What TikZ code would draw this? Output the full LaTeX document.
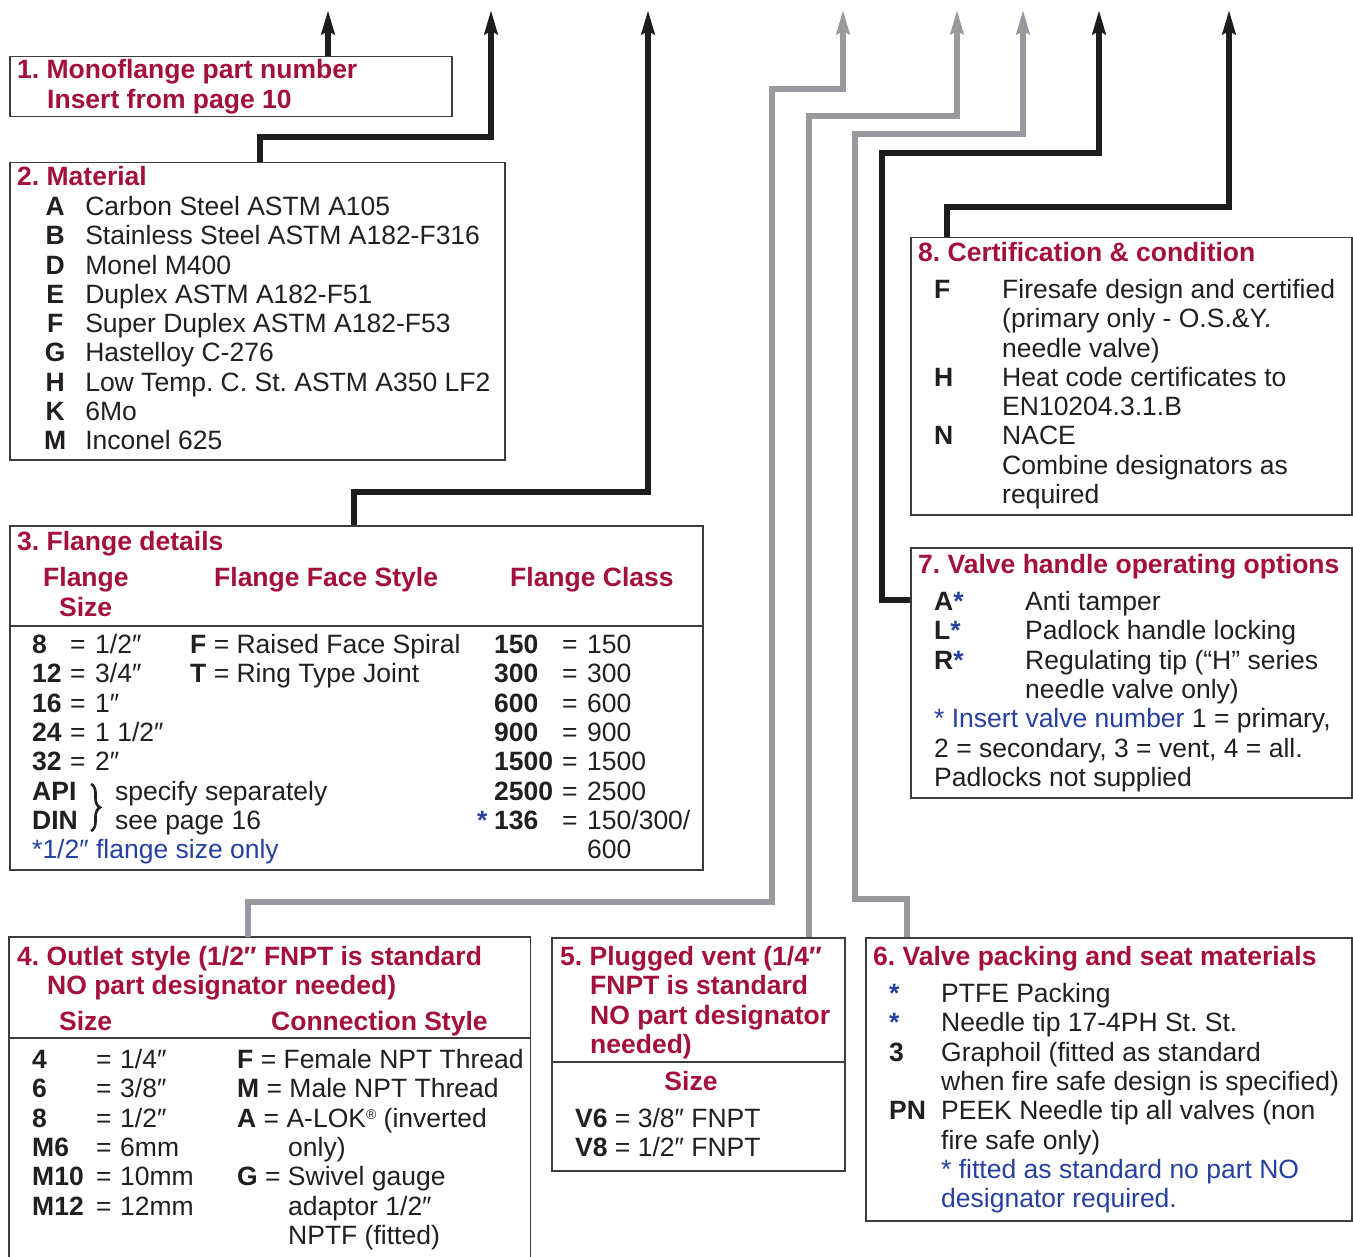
\documentclass[tikz,border=0pt]{standalone}
\usepackage{fontspec}
\setmainfont{Liberation Sans}
\usepackage{array}
\usepackage{graphicx}
\usetikzlibrary{arrows.meta,decorations.pathreplacing}
\frenchspacing
\definecolor{titlered}{RGB}{163,16,60}
\definecolor{noteblue}{RGB}{38,64,160}
\definecolor{linegray}{RGB}{152,153,158}
\definecolor{lineblack}{RGB}{30,28,30}
\definecolor{boxgray}{RGB}{60,60,60}
\definecolor{textblack}{RGB}{35,31,32}
\newcommand{\msize}{\fontsize{26.5}{29.3}\selectfont\frenchspacing}
\newcommand{\colrows}[1]{\begin{tabular}[t]{@{}l@{}}#1\end{tabular}}
\newcommand{\bs}{\textcolor{noteblue}{*}}
\tikzset{
  box/.style={draw=boxgray, line width=1.5pt, inner sep=0pt, anchor=north west},
  openbox/.style={inner sep=0pt, anchor=north west},
  boxline/.style={draw=boxgray, line width=1.5pt},
  sepline/.style={draw=boxgray, line width=2.6pt},
  txt/.style={anchor=base west, inner sep=0pt, font=\msize, text=textblack},
  btxt/.style={txt, font=\msize\bfseries},
  ttl/.style={txt, font=\msize\bfseries, text=titlered},
  note/.style={txt, text=noteblue},
  bracestyle/.style={draw=textblack, line width=2.6pt, decorate, decoration={brace, amplitude=9pt}},
  blk/.style={draw=lineblack, line width=5.5pt, -{Stealth[length=24pt,width=13pt,inset=3pt]}},
  gry/.style={draw=linegray, line width=5.5pt, -{Stealth[length=24pt,width=13pt,inset=3pt]}},
}
\begin{document}
\begin{tikzpicture}[x=1pt,y=-1pt]
\useasboundingbox[fill=white] (0,0) rectangle (1353,1257);

% ---------- boxes ----------
\node[box, minimum width=442pt, minimum height=60pt]  (b1) at (9,56) {};
\node[box, minimum width=495pt, minimum height=297pt] (b2) at (9,162) {};
\node[box, minimum width=693pt, minimum height=344pt] (b3) at (9,525) {};
\node[openbox, minimum width=521pt, minimum height=320pt] (b4) at (9,937) {};
\draw[boxline] (b4.south west) -- (b4.north west) -- (b4.north east) -- (b4.south east);
\node[box, minimum width=293pt, minimum height=233pt] (b5) at (551,937) {};
\node[box, minimum width=486pt, minimum height=283pt] (b6) at (865,937) {};
\node[box, minimum width=441pt, minimum height=250pt] (b7) at (910,547) {};
\node[box, minimum width=441pt, minimum height=277pt] (b8) at (910,237) {};

% separators
\draw[sepline] (b3.west |- 0,626) -- (b3.east |- 0,626);
\draw[sepline] (b4.west |- 0,1038) -- (b4.east |- 0,1038);
\draw[sepline] (b5.west |- 0,1062) -- (b5.east |- 0,1062);

% ---------- connectors ----------
\coordinate (t1) at (328,10);
\coordinate (t2) at (491,10);
\coordinate (t3) at (648,10);
\coordinate (t4) at (843,10);
\coordinate (t5) at (957,10);
\coordinate (t6) at (1023,10);
\coordinate (t7) at (1099,10);
\coordinate (t8) at (1229,10);
\coordinate (k2) at (260,137);
\coordinate (k3) at (354,492);
\coordinate (k4a) at (248,902);
\coordinate (k4b) at (772,89);
\coordinate (k5) at (809,116);
\coordinate (k6a) at (907,899);
\coordinate (k6b) at (855,134);
\coordinate (k7a) at (882,600);
\coordinate (k7b) at (882,153);
\coordinate (k8) at (947,207);

\draw[blk] (t1 |- b1.north) -- (t1);
\draw[blk] (k2 |- b2.north) -- (k2) -| (t2);
\draw[blk] (k3 |- b3.north) -- (k3) -| (t3);
\draw[gry] (k4a |- b4.north) -- (k4a) -| (k4b) -| (t4);
\draw[gry] (k5 |- b5.north) -- (k5) -| (t5);
\draw[gry] (k6a |- b6.north) -- (k6a) -| (k6b) -| (t6);
\draw[blk] (b7.west |- k7a) -| (k7b) -| (t7);
\draw[blk] (k8 |- b8.north) -- (k8) -| (t8);

% ---------- box 1 ----------
\node[ttl] (b1t1) at (17,78.5) {1. Monoflange part number};
\node[ttl] (b1t2) at (47,108.2) {Insert from page 10};

% ---------- box 2 ----------
\node[ttl] (b2t) at (17,185.5) {2. Material};
\node[txt] (b2l) at (44,215.5) {\begin{tabular}[t]{@{}>{\bfseries}c@{\hspace{19pt}}l@{}}
A & Carbon Steel ASTM A105\\
B & Stainless Steel ASTM A182-F316\\
D & Monel M400\\
E & Duplex ASTM A182-F51\\
F & Super Duplex ASTM A182-F53\\
G & Hastelloy C-276\\
H & Low Temp. C. St. ASTM A350 LF2\\
K & 6Mo\\
M & Inconel 625
\end{tabular}};

% ---------- box 3 ----------
\node[ttl] (b3t) at (17,550.5) {3. Flange details};
\node[ttl] (b3h1) at (43,586.5) {Flange};
\node[ttl] (b3h1b) at (59,616.5) {Size};
\node[ttl] (b3h2) at (214,586.5) {Flange Face Style};
\node[ttl] (b3h3) at (510,586.5) {Flange Class};
\node[btxt] (b3c1) at (32,653.5) {\colrows{8\\12\\16\\24\\32\\API\\DIN}};
\node[txt] (b3e1) at (70,653.5) {\colrows{=\\=\\=\\=\\=}};
\node[txt] (b3v1) at (95,653.5) {\colrows{1/2″\\3/4″\\1″\\1 1/2″\\2″}};
\coordinate (brtop) at (91,784);
\coordinate (brbot) at (91,831);
\draw[bracestyle] (brtop) -- (brbot);
\node[txt] (b3ad) at (115,800.0) {\colrows{specify separately\\see page 16}};
\node[note] (b3n) at (32,858.6) {*1/2″ flange size only};
\node[txt] (b3f) at (190,653.5) {\colrows{\textbf{F} = Raised Face Spiral\\\textbf{T} = Ring Type Joint}};
\node[btxt, text=noteblue] (b3s) at (477,829.3) {*};
\node[btxt] (b3c3) at (494,653.5) {\colrows{150\\300\\600\\900\\1500\\2500\\136}};
\node[txt] (b3e3) at (562,653.5) {\colrows{=\\=\\=\\=\\=\\=\\=}};
\node[txt] (b3v3) at (587,653.5) {\colrows{150\\300\\600\\900\\1500\\2500\\150/300/\\600}};

% ---------- box 4 ----------
\node[ttl] (b4t1) at (17,965.5) {4. Outlet style (1/2″ FNPT is standard};
\node[ttl] (b4t2) at (47,994.8) {NO part designator needed)};
\node[ttl] (b4h1) at (59,1030.5) {Size};
\node[ttl] (b4h2) at (271,1030.5) {Connection Style};
\node[btxt] (b4c) at (32,1068.5) {\colrows{4\\6\\8\\M6\\M10\\M12}};
\node[txt] (b4e) at (96,1068.5) {\colrows{=\\=\\=\\=\\=\\=}};
\node[txt] (b4v) at (120,1068.5) {\colrows{1/4″\\3/8″\\1/2″\\6mm\\10mm\\12mm}};
\node[txt] (b4s1) at (237,1068.5) {\colrows{\textbf{F} = Female NPT Thread\\\textbf{M} = Male NPT Thread\\\textbf{A} = A-LOK\raisebox{8pt}{\fontsize{14}{14}\selectfont ®} (inverted\\ \\\textbf{G} = Swivel gauge}};
\node[txt] (b4s2) at (288,1156.4) {\colrows{only)\\ \\adaptor 1/2″\\NPTF (fitted)}};

% ---------- box 5 ----------
\node[ttl] (b5t1) at (560,965.5) {5. Plugged vent (1/4″};
\node[ttl] (b5t2) at (590,994.8) {\colrows{FNPT is standard\\NO part designator\\needed)}};
\node[ttl, anchor=base] (b5h) at (691,1090.5) {Size};
\node[txt] (b5r) at (575,1127.5) {\colrows{\textbf{V6} = 3/8″ FNPT\\\textbf{V8} = 1/2″ FNPT}};

% ---------- box 6 ----------
\node[ttl] (b6t) at (873,965.5) {6. Valve packing and seat materials};
\node[btxt] (b6c) at (889,1002.5) {\colrows{\bs\\\bs\\3\\ \\PN}};
\node[txt] (b6x) at (941,1002.5) {\colrows{PTFE Packing\\Needle tip 17-4PH St. St.\\Graphoil (fitted as standard\\when fire safe design is specified)\\PEEK Needle tip all valves (non\\fire safe only)\\\textcolor{noteblue}{* fitted as standard no part NO}\\\textcolor{noteblue}{designator required.}}};

% ---------- box 7 ----------
\node[ttl] (b7t) at (918,573.5) {7. Valve handle operating options};
\node[btxt] (b7c) at (934,610.5) {\colrows{A\bs\\L\bs\\R\bs}};
\node[txt] (b7x) at (1025,610.5) {\colrows{Anti tamper\\Padlock handle locking\\Regulating tip (“H” series\\needle valve only)}};
\node[txt] (b7n) at (934,727.7) {\colrows{\textcolor{noteblue}{* Insert valve number} 1 = primary,\\2 = secondary, 3 = vent, 4 = all.\\Padlocks not supplied}};

% ---------- box 8 ----------
\node[ttl] (b8t) at (918,261.5) {8. Certification \& condition};
\node[btxt] (b8c) at (934,298.5) {\colrows{F\\ \\ \\H\\ \\N}};
\node[txt] (b8x) at (1002,298.5) {\colrows{Firesafe design and certified\\(primary only - O.S.\&Y.\\needle valve)\\Heat code certificates to\\EN10204.3.1.B\\NACE\\Combine designators as\\required}};
\end{tikzpicture}
\end{document}
